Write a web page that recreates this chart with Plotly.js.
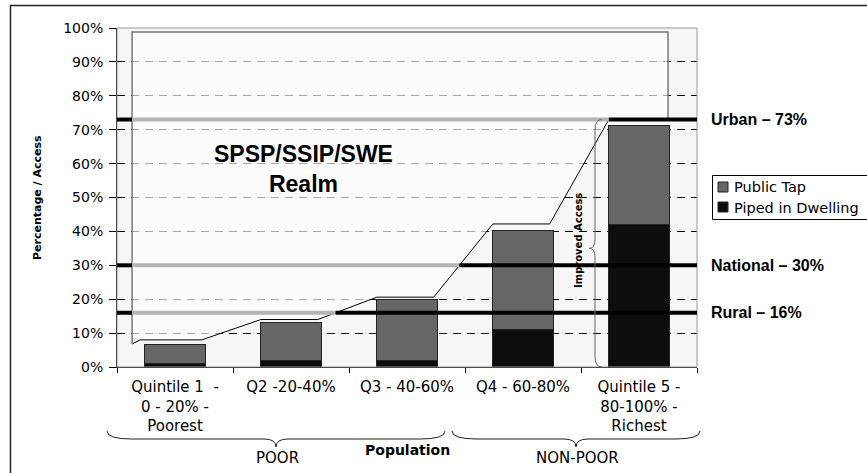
<!DOCTYPE html>
<html><head><meta charset="utf-8">
<script src="https://cdn.plot.ly/plotly-3.0.1.min.js"></script>
<style>html,body{margin:0;padding:0;background:#fff}#chart{width:867px;height:473px}</style>
</head><body><div id="chart"></div>
<script>
// ---------- data ----------
const categories = ["Quintile 1\u00a0 -<br>0 - 20% -<br>Poorest", "Q2 -20-40%", "Q3 - 40-60%", "Q4 - 60-80%", "Quintile 5 -<br>80-100% -<br>Richest"];
const pipedInDwelling = [1.0, 1.8, 1.8, 11.0, 42.0];
const publicTap = [5.5, 11.2, 18.2, 29.4, 29.3];
const seriesNames = ["Piped in Dwelling", "Public Tap"];
const refValues = [73, 30, 16];
const refLabels = ["Urban \u2013 73%", "National \u2013 30%", "Rural \u2013 16%"];
const realmFloor = [8.0, 14.0, 20.6, 42.2, 73.0];
const realmTop = 98.8;
const realmStart = 6.8;
const realmLabel = "SPSP/SSIP/SWE<br>Realm";
const yTickVals = [0, 10, 20, 30, 40, 50, 60, 70, 80, 90, 100];
const yTickText = yTickVals.map(v => v + "%");
const yTitle = "Percentage / Access";
const braceLabel = "Improved Access";
const groupLabels = ["POOR", "NON-POOR"];
const xTitle = "Population";

// ---------- layout helpers ----------
const W = 867, H = 473;
const M = {l: 117, r: 170, t: 28, b: 106};
const PW = W - M.l - M.r, PH = H - M.t - M.b;
const X = px => (px - M.l) / PW;
const Y = py => (M.t + PH - py) / PH;

const colTap = "#666666", colPiped = "#0d0d0d";
const realmLeft = -0.37, realmRight = 4.25, firstLeft = -0.30, segL = 0.26, segR = 0.23;
const last = realmFloor.length - 1;

// envelope (bottom edge of the realm box)
const verts = [[realmLeft, realmStart]];
realmFloor.forEach((f, i) => {
  const l = i === 0 ? firstLeft : i - segL;
  const r = i === last ? realmRight : i + segR;
  verts.push([l, f], [r, f]);
});
function crossing(v) {
  for (let k = 0; k < verts.length - 1; k++) {
    const [x0, y0] = verts[k], [x1, y1] = verts[k + 1];
    if (y0 < v && y1 >= v) return x0 + (v - y0) / (y1 - y0) * (x1 - x0);
  }
  return realmRight;
}

const fillX = verts.map(p => p[0]).concat([realmRight, realmLeft, realmLeft]);
const fillY = verts.map(p => p[1]).concat([realmTop, realmTop, realmStart]);

const traces = [
  {type: "bar", name: seriesNames[0], x: categories, y: pipedInDwelling, width: 0.52,
   marker: {color: colPiped, line: {color: "#222", width: 1}}, showlegend: false, hoverinfo: "skip"},
  {type: "bar", name: seriesNames[1], x: categories, y: publicTap, width: 0.52,
   marker: {color: colTap, line: {color: "#222", width: 1}}, showlegend: false, hoverinfo: "skip"},
  {type: "scatter", mode: "lines", x: fillX, y: fillY, xaxis: "x2", yaxis: "y",
   fill: "toself", fillcolor: "rgba(255,255,255,0.65)", line: {width: 0}, showlegend: false, hoverinfo: "skip"},
  {type: "scatter", mode: "lines", x: verts.map(p => p[0]), y: verts.map(p => p[1]), xaxis: "x2", yaxis: "y",
   line: {color: "#000", width: 1}, showlegend: false, hoverinfo: "skip"},
  {type: "scatter", mode: "lines", x: [realmLeft, realmLeft, realmRight, realmRight],
   y: [realmStart, realmTop, realmTop, realmFloor[last]], xaxis: "x2", yaxis: "y",
   line: {color: "#777", width: 1.5}, showlegend: false, hoverinfo: "skip"}
];

const shapes = [];
// plot border (top/right gray)
shapes.push({type: "rect", xref: "paper", yref: "paper", x0: 0, x1: 1, y0: 0, y1: 1,
  line: {color: "#999", width: 1}, layer: "above"});
// reference lines
refValues.forEach(v => {
  const c = crossing(v);
  shapes.push({type: "line", xref: "x2", yref: "y", x0: -0.5, x1: realmLeft, y0: v, y1: v, line: {color: "#000", width: 4}, layer: "above"});
  shapes.push({type: "line", xref: "x2", yref: "y", x0: realmLeft, x1: c, y0: v, y1: v, line: {color: "#b4b4b4", width: 4}, layer: "above"});
  shapes.push({type: "line", xref: "x2", yref: "y", x0: c, x1: 4.526, y0: v, y1: v, line: {color: "#000", width: 4}, layer: "above"});
});
// vertical "{" brace for Improved Access
(function () {
  const s = X(595), e = X(602), t = X(589), top = refValues[0], tip = 35;
  const p = `M ${e},${top} Q ${s},${top} ${s},${top - 3} L ${s},${tip + 2.5} Q ${s},${tip} ${t},${tip} ` +
            `Q ${s},${tip} ${s},${tip - 2.5} L ${s},3 Q ${s},0 ${e},0`;
  shapes.push({type: "path", xref: "paper", yref: "y", path: p, line: {color: "#666", width: 1}, layer: "above"});
})();
// horizontal braces under the axis
function hBrace(x0, x1, tip) {
  const yTop = 431, yMid = 439, yTip = 447, r = 25, rt = 12;
  const p = `M ${X(x0)},${Y(yTop)} Q ${X(x0)},${Y(yMid)} ${X(x0 + r)},${Y(yMid)} L ${X(tip - rt)},${Y(yMid)} ` +
            `Q ${X(tip)},${Y(yMid)} ${X(tip)},${Y(yTip)} Q ${X(tip)},${Y(yMid)} ${X(tip + rt)},${Y(yMid)} ` +
            `L ${X(x1 - r)},${Y(yMid)} Q ${X(x1)},${Y(yMid)} ${X(x1)},${Y(yTop)}`;
  return {type: "path", xref: "paper", yref: "paper", path: p, line: {color: "#222", width: 1}, layer: "above"};
}
shapes.push(hBrace(107, 445, 276));
shapes.push(hBrace(452, 700, 576));
// outer chart border
shapes.push({type: "rect", xref: "paper", yref: "paper", x0: X(10.5), x1: X(900), y0: Y(520), y1: Y(5.5),
  line: {color: "#222", width: 1.5}, layer: "above"});
// legend box & symbols
shapes.push({type: "rect", xref: "paper", yref: "paper", x0: X(712.5), x1: X(900), y0: Y(219.5), y1: Y(175.5),
  line: {color: "#000", width: 1}, fillcolor: "#fff", layer: "above"});
shapes.push({type: "rect", xref: "paper", yref: "paper", x0: X(718), x1: X(728), y0: Y(192), y1: Y(182),
  line: {color: "#222", width: 1}, fillcolor: colTap, layer: "above"});
shapes.push({type: "rect", xref: "paper", yref: "paper", x0: X(718), x1: X(728), y0: Y(212), y1: Y(202),
  line: {color: "#222", width: 1}, fillcolor: colPiped, layer: "above"});

const boldArial = {family: "Liberation Sans, Arial, sans-serif", weight: "bold", color: "#000"};
function note(text, xref, yref, x, y, font, extra) {
  return Object.assign({text, xref, yref, x, y, xanchor: "center", yanchor: "middle", showarrow: false, font}, extra || {});
}
const annotations = [
  note(realmLabel, "x2", "y", 1.11, 58.4, Object.assign({}, boldArial, {size: 23})),
  note(yTitle, "paper", "paper", X(37.5), 0.5, {family: "DejaVu Sans", weight: "bold", size: 11, color: "#000"}, {textangle: -90}),
  note(braceLabel, "paper", "paper", X(578), Y(241), {family: "DejaVu Sans", weight: "bold", size: 10, color: "#000"}, {textangle: -90}),
  note(groupLabels[0], "paper", "paper", X(277), Y(458), {family: "DejaVu Sans", size: 15, color: "#000"}),
  note(groupLabels[1], "paper", "paper", X(577), Y(458), {family: "DejaVu Sans", size: 15, color: "#000"}),
  note(xTitle, "paper", "paper", X(407), Y(450), {family: "DejaVu Sans", weight: "bold", size: 14, color: "#000"}),
  note(seriesNames[1], "paper", "paper", X(732), Y(187), {family: "DejaVu Sans", size: 14.5, color: "#000"}, {xanchor: "left"}),
  note(seriesNames[0], "paper", "paper", X(732), Y(207.5), {family: "DejaVu Sans", size: 14.5, color: "#000"}, {xanchor: "left"})
];
refValues.forEach((v, i) => annotations.push(
  note(refLabels[i], "paper", "y", X(709), v, Object.assign({}, boldArial, {size: 16}), {xanchor: "left"})
));

const layout = {
  width: W, height: H,
  margin: M,
  paper_bgcolor: "#fff",
  plot_bgcolor: "#f6f6f6",
  barmode: "stack",
  showlegend: false,
  font: {family: "DejaVu Sans", color: "#000"},
  xaxis: {type: "category", range: [-0.5, 4.5], tickson: "boundaries", ticks: "outside", ticklen: 5,
          tickcolor: "#000", showline: true, linecolor: "#000", linewidth: 1, showgrid: false,
          tickfont: {family: "DejaVu Sans", size: 15, color: "#000"}, ticklabelstandoff: 6, fixedrange: true},
  xaxis2: {overlaying: "x", range: [-0.5, 4.5], visible: false, fixedrange: true},
  yaxis: {range: [0, 100], tickmode: "array", tickvals: yTickVals, ticktext: yTickText,
          ticks: "outside", ticklen: 7, tickcolor: "#000", showline: true, linecolor: "#000", linewidth: 1,
          showgrid: true, gridcolor: "#000", gridwidth: 1, griddash: "8px,6px", zeroline: false,
          tickfont: {family: "DejaVu Sans", size: 14, color: "#000"}, ticklabelstandoff: 3, fixedrange: true},
  shapes: shapes,
  annotations: annotations
};

Plotly.newPlot("chart", traces, layout, {staticPlot: true, displayModeBar: false});
</script>
</body></html>
